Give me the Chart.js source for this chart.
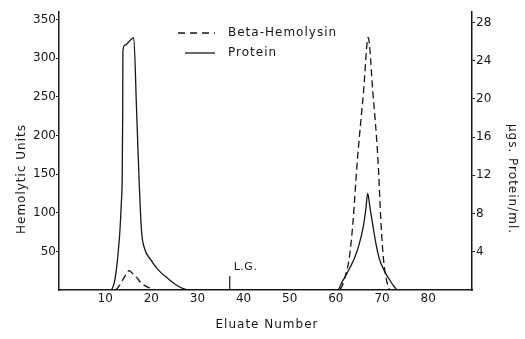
<!DOCTYPE html>
<html>
<head>
<meta charset="utf-8">
<script src="https://cdn.jsdelivr.net/npm/chart.js@4/dist/chart.umd.min.js"></script>
<style>
  html, body { margin: 0; padding: 0; background: #fff; }
  #wrap { width: 525px; height: 339px; }
</style>
</head>
<body>
<div id="wrap"><canvas id="chart" width="525" height="339"></canvas></div>
<script>
// Beta-hemolysin, hemolytic units (left axis)
const hemolysinEluate = [12.3, 13.0, 13.8, 14.5, 15.2, 16.0, 17.0, 17.8, 18.5, 19.3, 20.5, 21.0,
  60.6, 61.5, 62.2, 62.9, 63.65, 64.7, 66.0, 67.0, 68.0, 69.1, 69.8, 70.3, 70.9, 71.6];
const hemolysinUnits = [0, 5, 13, 20, 25, 21, 15, 9, 6, 3.5, 1, 0,
  0, 7, 22, 41, 84, 171, 257, 327, 257, 171, 84, 41, 15, 0];

// Protein, µg/ml (right axis)
const proteinEluate = [11.4, 12.0, 12.4, 12.8, 13.2, 13.5, 13.7, 13.8, 13.85, 14.2, 16.2, 16.8, 17.4, 17.9, 18.5, 19.9, 21.5, 23.6, 25.5, 27.2, 28.0,
  60.4, 61.3, 62.2, 63.0, 64.0, 65.0, 66.0, 66.5, 66.9, 67.4, 68.0, 68.7, 69.4, 70.5, 71.6, 72.4, 73.2];
const proteinUg = [0, 0.8, 2.0, 3.8, 6.2, 9.0, 12.0, 18, 25.0, 25.6, 26.4, 19, 11.0, 6.1, 4.4, 3.15, 2.1, 1.2, 0.5, 0.1, 0,
  0, 0.8, 1.55, 2.3, 3.3, 4.7, 6.8, 8.5, 10.1, 8.6, 6.8, 4.8, 3.3, 2.0, 1.1, 0.5, 0];

// L.G. marker
const lgEluate = [37, 37];
const lgUnits = [0, 18];

const xTicks = [10, 20, 30, 40, 50, 60, 70, 80];
const leftTicks = [50, 100, 150, 200, 250, 300, 350];
const rightTicks = [4, 8, 12, 16, 20, 24, 28];

const ink = "#161616";
const font = "'DejaVu Sans', sans-serif";

const toPoints = (xs, ys) => xs.map((x, i) => ({ x, y: ys[i] }));

const annotations = {
  id: "annotations",
  afterDraw(chart) {
    const { ctx, scales } = chart;
    ctx.save();
    ctx.fillStyle = ink;
    ctx.strokeStyle = ink;
    ctx.textBaseline = "middle";
    ctx.font = `12px ${font}`;
    ctx.letterSpacing = "1px";

    ctx.textAlign = "center";
    ctx.fillText("Eluate Number", 267, 325);

    ctx.save();
    ctx.translate(22, 179);
    ctx.rotate(-Math.PI / 2);
    ctx.fillText("Hemolytic Units", 0, 0);
    ctx.restore();

    ctx.save();
    ctx.translate(512, 179);
    ctx.rotate(Math.PI / 2);
    ctx.fillText("\u00b5gs. Protein/ml.", 0, 0);
    ctx.restore();

    // legend
    ctx.textAlign = "left";
    ctx.lineWidth = 1.3;
    ctx.setLineDash([7, 5]);
    ctx.beginPath(); ctx.moveTo(178, 33); ctx.lineTo(215, 33); ctx.stroke();
    ctx.setLineDash([]);
    ctx.beginPath(); ctx.moveTo(185, 53); ctx.lineTo(215, 53); ctx.stroke();
    ctx.fillText("Beta-Hemolysin", 228, 33);
    ctx.fillText("Protein", 228, 53);

    // L.G. label
    ctx.font = `11px ${font}`;
    ctx.letterSpacing = "0.5px";
    const lx = scales.x.getPixelForValue(lgEluate[1]);
    const ly = scales.y.getPixelForValue(lgUnits[1]);
    ctx.fillText("L.G.", lx + 4, ly - 9);
    ctx.restore();
  }
};

new Chart(document.getElementById("chart"), {
  type: "line",
  data: {
    datasets: [
      { label: "Beta-Hemolysin", data: toPoints(hemolysinEluate, hemolysinUnits), yAxisID: "y",
        borderColor: ink, borderWidth: 1.3, borderDash: [7, 4], pointRadius: 0, fill: false, cubicInterpolationMode: "monotone" },
      { label: "Protein", data: toPoints(proteinEluate, proteinUg), yAxisID: "y1",
        borderColor: ink, borderWidth: 1.3, pointRadius: 0, fill: false, cubicInterpolationMode: "monotone" },
      { label: "L.G.", data: toPoints(lgEluate, lgUnits), yAxisID: "y",
        borderColor: ink, borderWidth: 1.2, pointRadius: 0, fill: false }
    ]
  },
  options: {
    responsive: false,
    animation: false,
    devicePixelRatio: 1,
    layout: { padding: { top: 12, left: 0, right: 0, bottom: 0 } },
    plugins: { legend: { display: false }, tooltip: { enabled: false } },
    scales: {
      x: {
        type: "linear", min: 0, max: 89.5,
        afterBuildTicks: (s) => { s.ticks = xTicks.map((v) => ({ value: v })); },
        afterFit: (s) => { s.height = 49; },
        grid: { display: false, drawTicks: false },
        border: { display: true, color: ink, width: 1.5 },
        ticks: { color: ink, padding: 2, font: { family: font, size: 12 }, maxRotation: 0 }
      },
      y: {
        position: "left", min: 0, max: 360,
        afterBuildTicks: (s) => { s.ticks = leftTicks.map((v) => ({ value: v })); },
        afterFit: (s) => { s.width = 59; },
        grid: { display: true, drawOnChartArea: false, tickLength: 3, color: ink, lineWidth: 1 },
        border: { display: true, color: ink, width: 1.5 },
        ticks: { color: ink, padding: 0, font: { family: font, size: 12 } }
      },
      y1: {
        position: "right", min: 0, max: 29.1,
        afterBuildTicks: (s) => { s.ticks = rightTicks.map((v) => ({ value: v })); },
        afterFit: (s) => { s.width = 53; },
        grid: { display: true, drawOnChartArea: false, tickLength: 3, color: ink, lineWidth: 1 },
        border: { display: true, color: ink, width: 1.5 },
        ticks: { color: ink, padding: 1, font: { family: font, size: 12 } }
      }
    }
  },
  plugins: [annotations]
});
</script>
</body>
</html>
